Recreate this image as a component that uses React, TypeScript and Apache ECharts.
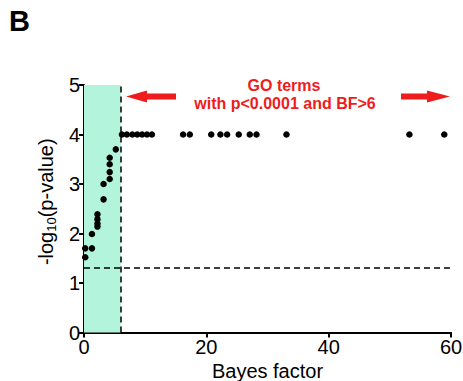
import React, { useEffect, useRef } from "react";
import * as echarts from "echarts";

const bayesFactor = [
  0.2, 1.3, 0.2, 1.3, 2.2, 2.2, 2.2, 2.2, 3.2, 3.2, 4.2, 4.2, 4.2, 4.2, 5.2,
  6.2, 7.0, 7.9, 8.7, 9.5, 10.3, 11.1,
  16.2, 17.3, 20.8, 22.3, 23.4, 25.3, 27.1, 28.2, 33.1, 53.2, 58.9,
];
const negLogP = [
  1.70, 1.70, 1.52, 1.99, 2.39, 2.29, 2.20, 2.14, 2.69, 3.00, 3.10, 3.24, 3.40, 3.53, 3.70,
  4, 4, 4, 4, 4, 4, 4,
  4, 4, 4, 4, 4, 4, 4, 4, 4, 4, 4,
];
const bfThreshold = 6;
const pThreshold = 1.3;
const xTicks = [0, 60, 20];
const yTicks = [0, 5, 1];

export default function App() {
  const ref = useRef<HTMLDivElement>(null);
  useEffect(() => {
    if (!ref.current) return;
    const chart = echarts.init(ref.current, null, { renderer: "svg" });
    const font = "'Liberation Sans', Arial, sans-serif";
    const data = bayesFactor.map((b, i) => [b, negLogP[i]]);
    const red = "#ee1c1c";
    chart.setOption({
      animation: false,
      textStyle: { fontFamily: font },
      grid: { left: 84, right: 12, top: 85, bottom: 48.5, containLabel: false, outerBoundsMode: "none" },
      xAxis: {
        type: "value",
        min: xTicks[0],
        max: xTicks[1],
        interval: xTicks[2],
        name: "Bayes factor",
        nameLocation: "middle",
        nameGap: 26,
        nameTextStyle: { fontSize: 20, color: "#000", fontFamily: font },
        axisLine: { lineStyle: { color: "#000", width: 2 } },
        axisTick: { length: 5, lineStyle: { color: "#000", width: 2 } },
        axisLabel: { fontSize: 20, color: "#000", margin: 4, fontFamily: font },
        splitLine: { show: false },
      },
      yAxis: {
        type: "value",
        min: yTicks[0],
        max: yTicks[1],
        interval: yTicks[2],
        name: "-log{sub|10}(p-value)",
        nameLocation: "middle",
        nameGap: 26,
        nameTextStyle: {
          fontSize: 20,
          color: "#000",
          fontFamily: font,
          padding: [0, 0, 0, 14],
          rich: { sub: { fontSize: 13, color: "#000", padding: [10, 0, 0, 0], fontFamily: font } },
        },
        axisLine: { lineStyle: { color: "#000", width: 2 } },
        axisTick: { length: 5, lineStyle: { color: "#000", width: 2 } },
        axisLabel: { fontSize: 20, color: "#000", margin: 4, fontFamily: font },
        splitLine: { show: false },
      },
      series: [
        {
          type: "scatter",
          data,
          symbolSize: 6.5,
          itemStyle: { color: "#000", opacity: 1 },
          z: 5,
          markArea: {
            silent: true,
            itemStyle: { color: "#b3f4dd", opacity: 1 },
            data: [[{ xAxis: xTicks[0], yAxis: yTicks[0] }, { xAxis: bfThreshold, yAxis: yTicks[1] }]],
          },
          markLine: {
            silent: true,
            symbol: "none",
            label: { show: false },
            lineStyle: { color: "#000", type: [6, 4], width: 1.5 },
            data: [{ xAxis: bfThreshold }, { yAxis: pThreshold }],
          },
        },
      ],
      graphic: [
        {
          type: "text",
          left: 9,
          top: 6,
          style: { text: "B", font: `bold 29px ${font}`, fill: "#000" },
        },
        {
          type: "text",
          x: 284,
          y: 85,
          style: {
            text: "GO terms",
            font: `bold 16px ${font}`,
            fill: red,
            align: "center",
            verticalAlign: "middle",
          },
        },
        {
          type: "text",
          x: 285,
          y: 103,
          style: {
            text: "with p<0.0001 and BF>6",
            font: `bold 16px ${font}`,
            fill: red,
            align: "center",
            verticalAlign: "middle",
          },
        },
        {
          type: "polygon",
          shape: {
            points: [
              [126, 96.5], [147, 90.5], [147, 93.5], [176, 93.5], [176, 99.5], [147, 99.5], [147, 102.5],
            ],
          },
          style: { fill: red },
        },
        {
          type: "polygon",
          shape: {
            points: [
              [450, 96.5], [427, 90.5], [427, 93.5], [401, 93.5], [401, 99.5], [427, 99.5], [427, 102.5],
            ],
          },
          style: { fill: red },
        },
      ],
    });
    return () => chart.dispose();
  }, []);
  return <div ref={ref} style={{ width: 463, height: 381, position: "absolute", left: 0, top: 0 }} />;
}
